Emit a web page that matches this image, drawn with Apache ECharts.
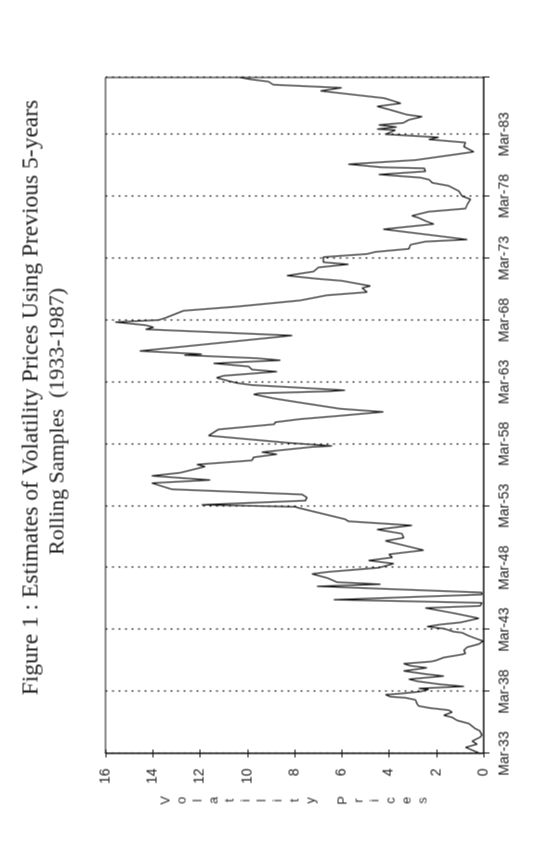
<!DOCTYPE html>
<html>
<head>
<meta charset="utf-8">
<script src="https://cdn.jsdelivr.net/npm/echarts@6/dist/echarts.min.js"></script>
<style>
  html, body { margin: 0; padding: 0; background: #fff; }
  body { width: 534px; height: 855px; position: relative; overflow: hidden; }
  /* the figure is printed sideways: draw it landscape, then turn it */
  #chart {
    position: absolute;
    width: 855px; height: 534px;
    left: -160.5px; top: 160.5px;
    transform: rotate(-90deg);
    transform-origin: 50% 50%;
  }
</style>
</head>
<body>
<div id="chart"></div>
<script>
// months counted from Mar-33
const months = [
  0, 6, 9, 12, 16, 18, 22, 24, 29, 32, 35, 37, 40, 42, 44, 46, 48, 52, 54, 55,
  57, 58, 60, 62, 63, 65, 67, 70, 72, 75, 77, 80, 83, 85, 87, 89, 90, 93, 96, 97,
  100, 103, 106, 109, 111, 114, 117, 118, 121, 123, 125, 127, 131, 136, 141, 143, 146, 149, 154, 156,
  162, 164, 166, 170, 174, 176, 180, 184, 187, 190, 193, 197, 206, 209, 213, 217, 221, 225, 227, 238,
  239, 241, 245, 248, 251, 256, 262, 265, 269, 272, 278, 280, 284, 287, 290, 292, 293, 297, 298, 301,
  308, 310, 314, 319, 321, 324, 327, 331, 334, 340, 344, 348, 349, 351, 352, 357, 359, 364, 366, 370,
  372, 375, 378, 381, 383, 386, 387, 390, 405, 411, 413, 415, 418, 420, 422, 429, 430, 433, 439, 444,
  447, 451, 453, 458, 460, 463, 467, 471, 474, 476, 481, 484, 486, 489, 493, 496, 498, 508, 513, 516,
  519, 521, 525, 528, 532, 537, 540, 545, 550, 553, 556, 558, 561, 564, 567, 568, 571, 575, 580, 583,
  588, 592, 595, 597, 600, 604, 605, 607, 609, 611, 614, 617, 619, 624, 627, 630, 635, 642, 645, 648,
  651, 653, 655
];
const volatility = [
  0.14, 0.76, 0.27, 0.48, 0.13, 0.07, 0.16, 0.34, 0.62, 1.11, 1.33, 1.68, 1.33, 1.47, 2.25, 2.74, 2.81, 2.88, 3.31, 3.94,
  4.15, 3.52, 2.67, 2.32, 2.74, 0.83, 1.82, 2.81, 3.16, 1.68, 2.46, 3.38, 2.39, 3.09, 3.38, 2.25, 2.03, 1.68, 0.9, 0.76,
  0.83, 0.69, 0.2, 0.02, 0.27, 0.62, 0.9, 1.26, 1.68, 2.39, 1.82, 0.97, 0.2, 1.26, 2.46, 0.14, 0.07, 6.34, 0.07, 0.07,
  7.05, 4.36, 6.2, 6.6, 7.26, 6.55, 4.43, 3.8, 4.86, 3.86, 4.0, 2.53, 4.15, 3.38, 3.45, 4.5, 3.03, 5.72, 5.86, 7.83,
  7.97, 11.93, 7.54, 7.47, 7.68, 13.19, 14.04, 11.57, 14.04, 12.84, 11.78, 12.13, 9.8, 9.73, 8.74, 9.38, 8.95, 7.26, 6.41, 8.25,
  11.64, 11.5, 11.22, 8.86, 8.81, 7.76, 6.2, 4.24, 6.06, 7.76, 8.86, 9.73, 9.5, 6.48, 5.86, 9.8, 10.45, 11.3, 11.0, 8.74,
  9.8, 9.94, 11.43, 8.6, 9.6, 12.67, 11.93, 14.55, 8.1, 14.3, 13.96, 14.3, 15.59, 13.75, 13.47, 12.7, 12.63, 10.45, 7.76, 6.63,
  4.93, 5.14, 4.79, 5.99, 7.05, 8.32, 7.19, 6.99, 5.72, 6.78, 6.78, 4.93, 4.58, 3.16, 3.09, 2.46, 0.69, 4.24, 2.1, 2.46,
  2.74, 3.03, 2.32, 0.76, 0.69, 0.55, 0.9, 1.05, 1.47, 2.17, 2.3, 2.67, 4.43, 2.46, 2.5, 4.3, 5.72, 2.88, 1.33, 0.41,
  0.83, 0.76, 2.32, 1.9, 4.15, 3.73, 4.5, 3.67, 4.43, 3.4, 3.16, 2.6, 3.24, 4.0, 4.5, 3.5, 4.2, 6.9, 6.0, 8.9,
  9.1, 9.8, 10.3
];
const tickLabels = ['Mar-33', 'Mar-38', 'Mar-43', 'Mar-48', 'Mar-53', 'Mar-58',
  'Mar-63', 'Mar-68', 'Mar-73', 'Mar-78', 'Mar-83'];
const yName = 'Volatility Prices';

const chart = echarts.init(document.getElementById('chart'), null, { renderer: 'canvas' });

chart.setOption({
  animation: false,
  backgroundColor: '#fff',
  grid: {
    left: 102, right: 77, top: 105, bottom: 51,
    show: true, borderColor: '#111', borderWidth: 1
  },
  graphic: [
    {
      type: 'text',
      style: {
        x: 458, y: 31,
        text: 'Figure 1 : Estimates of Volatility Prices Using Previous 5-years',
        font: '23.5px "Liberation Serif"',
        fill: '#222', align: 'center', verticalAlign: 'middle'
      }
    },
    {
      type: 'text',
      style: {
        x: 434, y: 57,
        text: 'Rolling Samples  (1933-1987)',
        font: '22px "Liberation Serif"',
        fill: '#222', align: 'center', verticalAlign: 'middle'
      }
    }
  ],
  xAxis: {
    type: 'value',
    min: 0,
    max: 655,
    interval: 60,
    axisLine: { show: true, onZero: false, lineStyle: { color: '#111', width: 1 } },
    axisTick: { show: true, length: 6, lineStyle: { color: '#111' } },
    axisLabel: {
      margin: 14,
      fontSize: 14,
      fontFamily: 'Liberation Sans',
      color: '#222',
      formatter: function (val) {
        return val % 60 === 0 ? tickLabels[val / 60] : '';
      }
    },
    splitLine: {
      show: true,
      lineStyle: { color: '#222', width: 1.2, type: [2, 4.5] }
    }
  },
  yAxis: [
    {
      type: 'value',
      min: 0,
      max: 16,
      interval: 2,
      name: yName.split('').join('\n'),
      nameLocation: 'middle',
      nameRotate: 0,
      nameGap: 47,
      nameTextStyle: {
        fontSize: 13, fontFamily: 'Liberation Sans', color: '#333',
        lineHeight: 16.1, align: 'center', verticalAlign: 'middle'
      },
      axisLine: { show: true, lineStyle: { color: '#111', width: 1 } },
      axisTick: { show: true, length: 4, lineStyle: { color: '#111' } },
      axisLabel: {
        margin: 15, fontSize: 14, fontFamily: 'Liberation Sans', color: '#222'
      },
      splitLine: { show: false }
    },
    {
      // inner half of the crossing ticks
      type: 'value',
      min: 0,
      max: 16,
      interval: 2,
      position: 'left',
      axisLine: { show: false },
      axisTick: { show: true, inside: true, length: 4, lineStyle: { color: '#111' } },
      axisLabel: { show: false },
      splitLine: { show: false }
    }
  ],
  series: [
    {
      type: 'line',
      yAxisIndex: 0,
      showSymbol: false,
      symbol: 'none',
      lineStyle: { color: '#111', width: 1.2 },
      data: months.map((m, i) => [m, volatility[i]])
    }
  ]
});
</script>
</body>
</html>
